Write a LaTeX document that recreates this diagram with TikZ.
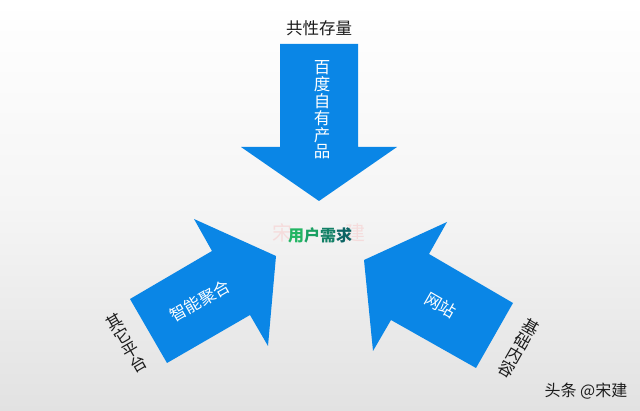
\documentclass[tikz,border=0pt]{standalone}
\usepackage{fontspec}
\newfontfamily\cjk{Noto Sans CJK SC}
\definecolor{arrowblue}{HTML}{0A86E6}
\definecolor{bgtop}{HTML}{FFFFFF}
\definecolor{bgmid}{HTML}{F5F5F5}
\definecolor{bgbot}{HTML}{E2E2E2}
\definecolor{txtdark}{HTML}{1C1C1C}
\definecolor{gA}{HTML}{22B563}
\definecolor{gB}{HTML}{1AA062}
\definecolor{gC}{HTML}{128066}
\definecolor{gD}{HTML}{0C6464}
\tikzset{
  arrowshape/.style={fill=arrowblue,draw=none},
  inlabel/.style={text=white,font=\cjk\fontsize{16.5}{16.8}\selectfont,inner sep=0pt,align=center},
  outlabel/.style={text=txtdark,font=\cjk\fontsize{16.5}{16}\selectfont,inner sep=0pt,align=center},
  wmark/.style={text=red!45!white,opacity=.22,font=\cjk\fontsize{20}{20}\selectfont,inner sep=0pt}
}
\begin{document}
\begin{tikzpicture}[x=1pt,y=-1pt]
\useasboundingbox (0,0) rectangle (640,411);
\shade[top color=bgtop,bottom color=bgbot,middle color=bgmid] (0,0) rectangle (640,411);
% top arrow
\fill[arrowshape] (280,44)--(358,44)--(358,147)--(397,147)--(319,201)--(241,147)--(280,147)--cycle;
% left arrow
\fill[arrowshape] (130,299)--(212,251)--(194,219)--(276,256)--(268,346)--(250,315)--(167,363)--cycle;
% right arrow
\fill[arrowshape] (513,303)--(429,254)--(447,222)--(364,260)--(373,351)--(391,320)--(476,368)--cycle;
% watermark
\node[wmark] (wm) at (319,233) {宋\hspace{2.7em}建};
% centre
\node[inner sep=0pt,font=\cjk\bfseries\fontsize{16}{16}\selectfont] (need) at (320,235) {\textcolor{gA}{用}\textcolor{gB}{户}\textcolor{gC}{需}\textcolor{gD}{求}};
% labels
\node[outlabel] (t1) at (319,28) {共性存量};
\node[inlabel] (t2) at (322,110) {百\\度\\自\\有\\产\\品};
\node[inlabel,rotate=30] (t3) at (200,301) {智能聚合};
\node[inlabel,rotate=-30] (t4) at (441,305) {网站};
\node[outlabel,rotate=30] (t5) at (127,343) {其\\它\\平\\台};
\node[outlabel,rotate=-30] (t6) at (519,348) {基\\础\\内\\容};
\node[inner sep=0pt,text=txtdark,font=\cjk\fontsize{16}{16}\selectfont] (t7) at (586,391) {头条 @宋建};
\end{tikzpicture}
\end{document}
